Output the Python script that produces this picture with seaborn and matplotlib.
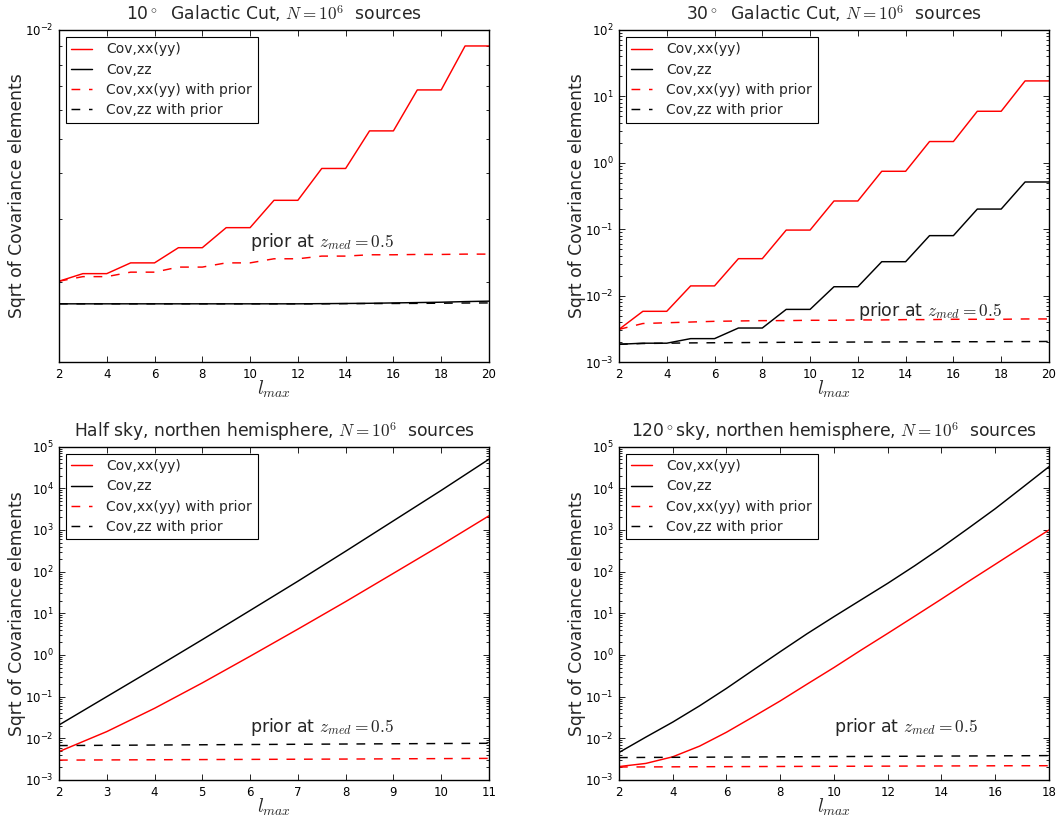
import numpy as np
import pandas as pd
import seaborn as sns
import matplotlib
matplotlib.use("Agg")
import matplotlib.pyplot as plt
from matplotlib.ticker import LogLocator, NullFormatter, MultipleLocator, FixedLocator

# ---- data -----------------------------------------------------------------
# 10 degree galactic cut
lmax_cut10 = list(range(2, 21))
xx_cut10 = [2.01e-3, 2.11e-3, 2.11e-3, 2.26e-3, 2.26e-3, 2.49e-3, 2.49e-3, 2.83e-3, 2.83e-3,
            3.37e-3, 3.37e-3, 4.13e-3, 4.13e-3, 5.25e-3, 5.25e-3, 6.82e-3, 6.82e-3, 9.03e-3, 9.03e-3]
zz_cut10 = [1.74e-3, 1.74e-3, 1.74e-3, 1.74e-3, 1.74e-3, 1.74e-3, 1.74e-3, 1.74e-3, 1.74e-3,
            1.74e-3, 1.74e-3, 1.742e-3, 1.744e-3, 1.746e-3, 1.75e-3, 1.754e-3, 1.758e-3, 1.765e-3, 1.77e-3]
xx_prior_cut10 = [2.01e-3, 2.07e-3, 2.07e-3, 2.13e-3, 2.13e-3, 2.20e-3, 2.20e-3, 2.26e-3, 2.26e-3,
                  2.32e-3, 2.32e-3, 2.36e-3, 2.36e-3, 2.38e-3, 2.38e-3, 2.385e-3, 2.385e-3, 2.39e-3, 2.39e-3]
zz_prior_cut10 = [1.74e-3, 1.74e-3, 1.74e-3, 1.74e-3, 1.74e-3, 1.74e-3, 1.74e-3, 1.74e-3, 1.74e-3,
                  1.74e-3, 1.74e-3, 1.74e-3, 1.742e-3, 1.743e-3, 1.744e-3, 1.745e-3, 1.747e-3, 1.749e-3, 1.75e-3]

# 30 degree galactic cut
lmax_cut30 = list(range(2, 21))
xx_cut30 = [3.1e-3, 5.8e-3, 5.8e-3, 0.014, 0.014, 0.036, 0.036, 0.097, 0.097,
            0.266, 0.266, 0.745, 0.745, 2.09, 2.09, 5.97, 5.97, 17.1, 17.1]
zz_cut30 = [1.85e-3, 1.92e-3, 1.92e-3, 2.25e-3, 2.25e-3, 3.25e-3, 3.25e-3, 6.2e-3, 6.2e-3,
            0.0136, 0.0136, 0.0324, 0.0324, 0.080, 0.080, 0.201, 0.201, 0.514, 0.514]
xx_prior_cut30 = [3.1e-3, 3.8e-3, 3.9e-3, 4.0e-3, 4.1e-3, 4.15e-3, 4.2e-3, 4.2e-3, 4.25e-3, 4.25e-3,
                  4.3e-3, 4.3e-3, 4.35e-3, 4.35e-3, 4.4e-3, 4.4e-3, 4.4e-3, 4.45e-3, 4.45e-3]
zz_prior_cut30 = [1.85e-3, 1.9e-3, 1.92e-3, 1.94e-3, 1.95e-3, 1.96e-3, 1.97e-3, 1.98e-3, 1.98e-3, 1.99e-3,
                  2.0e-3, 2.0e-3, 2.01e-3, 2.01e-3, 2.02e-3, 2.02e-3, 2.03e-3, 2.03e-3, 2.04e-3]

# half sky, northern hemisphere
lmax_half = list(range(2, 12))
xx_half = [4.8e-3, 0.0145, 0.0525, 0.214, 0.933, 4.17, 19.1, 91.2, 437.0, 2.19e3]
zz_half = [0.0209, 0.1, 0.479, 2.34, 11.7, 58.9, 309.0, 1.66e3, 8.91e3, 5.0e4]
xx_prior_half = [3.0e-3, 3.03e-3, 3.06e-3, 3.09e-3, 3.12e-3, 3.15e-3, 3.18e-3, 3.22e-3, 3.26e-3, 3.3e-3]
zz_prior_half = [6.7e-3, 6.8e-3, 6.9e-3, 7.0e-3, 7.1e-3, 7.2e-3, 7.3e-3, 7.4e-3, 7.5e-3, 7.6e-3]

# 120 degree sky, northern hemisphere
lmax_120 = list(range(2, 19))
xx_120 = [2.1e-3, 2.5e-3, 3.6e-3, 6.5e-3, 0.014, 0.033, 0.079, 0.2, 0.5,
          1.3, 3.3, 8.5, 22.0, 58.0, 150.0, 390.0, 1.0e3]
zz_120 = [4.57e-3, 0.0107, 0.0245, 0.0603, 0.158, 0.437, 1.2, 3.24, 8.32,
          20.9, 52.5, 138.0, 380.0, 1.1e3, 3.24e3, 1.03e4, 3.3e4]
xx_prior_120 = [2.05e-3, 2.06e-3, 2.07e-3, 2.08e-3, 2.09e-3, 2.1e-3, 2.11e-3, 2.12e-3, 2.13e-3,
                2.14e-3, 2.15e-3, 2.16e-3, 2.17e-3, 2.18e-3, 2.19e-3, 2.2e-3, 2.2e-3]
zz_prior_120 = [3.45e-3, 3.48e-3, 3.5e-3, 3.52e-3, 3.55e-3, 3.57e-3, 3.6e-3, 3.62e-3, 3.65e-3,
                3.67e-3, 3.7e-3, 3.72e-3, 3.75e-3, 3.77e-3, 3.8e-3, 3.82e-3, 3.85e-3]

titles = [
    r"10$^\circ$  Galactic Cut, $N=10^6$  sources",
    r"30$^\circ$  Galactic Cut, $N=10^6$  sources",
    r"Half sky, northen hemisphere, $N=10^6$  sources",
    r"120$^\circ$sky, northen hemisphere, $N=10^6$  sources",
]
series_labels = ["Cov,xx(yy)", "Cov,zz", "Cov,xx(yy) with prior", "Cov,zz with prior"]

panels = [
    dict(l=lmax_cut10, xx=xx_cut10, zz=zz_cut10, xxp=xx_prior_cut10, zzp=zz_prior_cut10,
         ylim=(1.2e-3, 1e-2), decades=(-2, -2), xlim=(2, 20), xstep=2, note=(10, 2.5e-3)),
    dict(l=lmax_cut30, xx=xx_cut30, zz=zz_cut30, xxp=xx_prior_cut30, zzp=zz_prior_cut30,
         ylim=(1e-3, 1e2), decades=(-3, 2), xlim=(2, 20), xstep=2, note=(12, 4.9e-3)),
    dict(l=lmax_half, xx=xx_half, zz=zz_half, xxp=xx_prior_half, zzp=zz_prior_half,
         ylim=(1e-3, 1e5), decades=(-3, 5), xlim=(2, 11), xstep=1, note=(6, 1.45e-2)),
    dict(l=lmax_120, xx=xx_120, zz=zz_120, xxp=xx_prior_120, zzp=zz_prior_120,
         ylim=(1e-3, 1e5), decades=(-3, 5), xlim=(2, 18), xstep=2, note=(10, 1.45e-2)),
]

# ---- style ----------------------------------------------------------------
sns.set_theme(style="white")
plt.rcParams.update({
    "font.family": ["DejaVu Sans"],
    "mathtext.fontset": "dejavusans",
    "axes.edgecolor": "black",
    "axes.linewidth": 1.0,
    "xtick.direction": "in",
    "ytick.direction": "in",
    "xtick.top": True,
    "ytick.right": True,
    "xtick.bottom": True,
    "ytick.left": True,
    "xtick.major.size": 4,
    "ytick.major.size": 4,
    "xtick.minor.size": 2,
    "ytick.minor.size": 2,
    "xtick.major.width": 0.6,
    "ytick.major.width": 0.6,
    "ytick.minor.width": 0.6,
    "xtick.color": "black",
    "ytick.color": "black",
    "xtick.labelsize": 8.5,
    "ytick.labelsize": 8.5,
    "xtick.major.pad": 4,
    "ytick.major.pad": 4,
})

fig = plt.figure(figsize=(10.57, 8.17), dpi=100)
positions = [
    [0.0558, 0.5569, 0.4068, 0.4064],
    [0.5856, 0.5569, 0.4068, 0.4064],
    [0.0558, 0.0453, 0.4068, 0.4080],
    [0.5856, 0.0453, 0.4068, 0.4080],
]

dash = (0, (6, 6))
for pos, title, p in zip(positions, titles, panels):
    ax = fig.add_axes(pos)
    df = pd.DataFrame({"lmax": p["l"], "xx": p["xx"], "zz": p["zz"],
                       "xxp": p["xxp"], "zzp": p["zzp"]})
    sns.lineplot(data=df, x="lmax", y="xx", ax=ax, color="red", lw=1.05, label=series_labels[0])
    sns.lineplot(data=df, x="lmax", y="zz", ax=ax, color="black", lw=1.05, label=series_labels[1])
    sns.lineplot(data=df, x="lmax", y="xxp", ax=ax, color="red", lw=1.05, linestyle=dash,
                 label=series_labels[2])
    sns.lineplot(data=df, x="lmax", y="zzp", ax=ax, color="black", lw=1.05, linestyle=dash,
                 label=series_labels[3])
    ax.set_yscale("log")
    ax.set_ylim(*p["ylim"])
    ax.set_xlim(*p["xlim"])
    ax.xaxis.set_major_locator(MultipleLocator(p["xstep"]))
    lo, hi = p["decades"]
    ax.yaxis.set_major_locator(FixedLocator([10.0 ** k for k in range(lo, hi + 1)]))
    ax.yaxis.set_minor_locator(LogLocator(base=10, subs=np.arange(2, 10), numticks=20))
    ax.yaxis.set_minor_formatter(NullFormatter())
    ax.set_title(title, fontsize=12.3, math_fontfamily="cm", pad=7)
    ax.set_xlabel(r"$l_{max}$", fontsize=14, math_fontfamily="cm", labelpad=-1)
    ax.set_ylabel("Sqrt of Covariance elements", fontsize=12.3, labelpad=-1)
    ax.text(p["note"][0], p["note"][1], r"prior at $z_{med}=0.5$", fontsize=12.5,
            math_fontfamily="cm")
    leg = ax.legend(loc="upper left", fontsize=10, frameon=True, fancybox=False,
                    edgecolor="black", framealpha=1, handlelength=1.5, labelspacing=0.45,
                    borderpad=0.4, handletextpad=1.0)
    leg.get_frame().set_linewidth(0.8)

fig.savefig("out.png", dpi=100)
